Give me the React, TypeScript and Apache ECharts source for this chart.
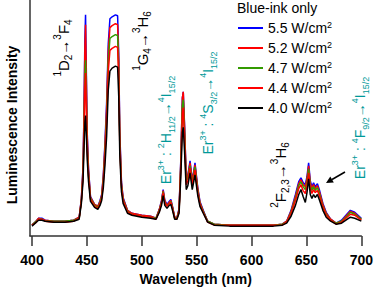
import React, { useEffect, useRef } from "react";
import * as echarts from "echarts";

const wavelength = [400,403,406,409,412,420,430,438,443,445,446.5,447.3,448.2,448.8,449.6,450.3,451.5,453.3,457,460,462,463.5,465,466.5,468,469.5,471,473,476,478,479,480,481.5,483,487,491,500,508,513,516,518,519.5,521,523,525,526.5,528,530,532,534,535.5,537,537.8,539,540.5,542,544,546,548.5,551,553,556,560,566,580,600,620,628,632,636,640,643,645,647,649,650.5,652,653.5,655,656.5,658,660,662,665,668,672,677,682,686,690,694,700];

const p55 = [11,14,18,18,16,15,15,16,19,38,70,120,200,224,160,105,68,40,32,30,36,42,62,95,135,195,220,222,224,223,185,105,55,39,26,23,21,20,18,27,36,47,36,32,35,37,30,19,18,28,75,140,146,112,58,62,76,56,74,49,35,26,15,12,11,11,11,12,15,26,42,55,59,54,52,60,74,56,50,54,50,53,46,33,24,17,13,16,21,26,24,18];
const p52 = [11,14,18,17,16,15,15,16,19,37,68,115,191,214,153,101,66,39,32,30,35,41,60,91,129,187,211,213,215,214,178,101,53,38,26,23,21,20,18,27,35,46,35,31,34,36,29,19,18,27,73,140,146,110,57,61,74,55,72,48,34,25,15,12,11,11,11,12,15,25,40,53,57,52,50,58,71,54,48,52,48,51,44,32,23,17,13,15,20,25,23,17];
const p47 = [11,14,17,17,15,15,15,16,18,36,64,104,162,178,135,92,62,38,31,29,34,40,57,86,122,177,200,202,204,203,169,96,51,37,25,22,20,19,18,26,34,45,34,31,33,35,29,18,18,26,70,132,138,104,55,59,71,53,70,46,33,25,15,12,11,11,11,12,14,24,38,51,55,50,47,55,68,51,46,50,46,49,42,30,22,16,13,15,19,24,22,17];
const p44 = [11,13,17,17,15,14,14,15,18,35,61,98,150,165,125,87,60,37,30,28,33,38,54,81,115,167,188,190,192,191,160,91,49,36,24,22,20,19,17,25,33,44,34,30,33,34,28,18,17,25,66,124,130,98,52,56,69,51,67,44,32,24,14,11,11,11,11,11,14,23,36,48,52,46,43,51,64,48,43,47,44,46,40,29,21,16,12,14,18,22,21,16];
const p40 = [10,13,16,16,15,14,14,15,17,33,55,85,115,122,100,78,55,35,29,27,31,36,49,72,101,148,167,170,172,171,142,82,45,33,23,21,19,18,17,24,31,41,31,28,31,32,26,17,17,23,58,105,110,85,47,51,64,47,62,41,30,23,14,11,10,10,10,11,13,20,31,42,47,40,34,44,58,42,38,42,39,42,36,26,19,15,12,13,16,19,18,15];

const seriesNames = ["5.5 W/cm2", "5.2 W/cm2", "4.7 W/cm2", "4.4 W/cm2", "4.0 W/cm2"];
const seriesColors = ["#0000ff", "#ff0000", "#339a00", "#ff0000", "#000000"];
const seriesValues = [p55, p52, p47, p44, p40];
const xTicks = [400, 450, 500, 550, 600, 650, 700];

const FONT = "Liberation Sans, Arial, sans-serif";
const TEAL = "#009999";

function rich(color: string, main: number, small: number) {
  return {
    m: { fontSize: main, fontFamily: FONT, fill: color, color, lineHeight: main + 6, verticalAlign: "middle" },
    u: { fontSize: small, fontFamily: FONT, fill: color, color, lineHeight: small, verticalAlign: "top" },
    d: { fontSize: small, fontFamily: FONT, fill: color, color, lineHeight: small, verticalAlign: "bottom" },
  };
}

function vText(x: number, y: number, text: string, color: string, main: number, small: number) {
  return {
    type: "text",
    x,
    y,
    rotation: Math.PI / 2,
    style: {
      text,
      rich: rich(color, main, small),
      align: "center",
      verticalAlign: "middle",
      fill: color,
      font: `${main}px ${FONT}`,
    },
    z: 100,
  };
}

export default function App() {
  const ref = useRef<HTMLDivElement>(null);
  useEffect(() => {
    if (!ref.current) return;
    const chart = echarts.init(ref.current, null, { renderer: "svg" });
    const option: any = {
      animation: false,
      grid: { left: 30, right: 11, top: 0, bottom: 52, containLabel: false },
      xAxis: {
        type: "value",
        min: 398.2,
        max: 700,
        name: "Wavelength (nm)",
        nameLocation: "middle",
        nameGap: 36,
        nameTextStyle: { fontFamily: FONT, fontWeight: "bold", fontSize: 14, color: "#000" },
        axisLine: { show: true, onZero: false, lineStyle: { color: "#333", width: 1.5 } },
        axisTick: { show: true, inside: false, length: 10, customValues: xTicks, lineStyle: { color: "#333", width: 1.5 } },
        axisLabel: { customValues: xTicks, margin: 17, fontFamily: FONT, fontWeight: "bold", fontSize: 14, color: "#000" },
        splitLine: { show: false },
      },
      yAxis: {
        type: "value",
        min: 0,
        max: 239,
        axisLine: { show: true, lineStyle: { color: "#333", width: 1.5 } },
        axisTick: { show: false },
        axisLabel: { show: false },
        splitLine: { show: false },
      },
      legend: {
        orient: "vertical",
        left: 238,
        top: 20,
        padding: 0,
        icon: "rect",
        itemWidth: 25,
        itemHeight: 2,
        itemGap: 5,
        selectedMode: false,
        data: seriesNames,
        formatter: (name: string) => `{a|${name.slice(0, -1)}}{s|${name.slice(-1)}}`,
        textStyle: {
          fontFamily: FONT,
          fontSize: 14,
          color: "#000",
          rich: {
            a: { fontFamily: FONT, fontSize: 14, color: "#000", lineHeight: 16 },
            s: { fontFamily: FONT, fontSize: 9, color: "#000", lineHeight: 9, verticalAlign: "top" },
          },
        },
      },
      series: seriesNames.map((name, i) => ({
        name,
        type: "line",
        symbol: "none",
        showSymbol: false,
        color: seriesColors[i],
        lineStyle: { color: seriesColors[i], width: 1.5 },
        data: wavelength.map((w, j) => [w, seriesValues[i][j]]),
        z: 2 + i,
      })),
      graphic: [
        {
          type: "text",
          x: 12,
          y: 125,
          rotation: Math.PI / 2,
          style: {
            text: "Luminescence Intensity",
            font: `bold 14px ${FONT}`,
            fill: "#000",
            align: "center",
            verticalAlign: "middle",
          },
        },
        {
          type: "text",
          x: 237,
          y: 8,
          style: {
            text: "Blue-ink only",
            font: `14px ${FONT}`,
            fill: "#000",
            align: "left",
            verticalAlign: "middle",
          },
        },
        vText(63, 48, "{u|1}{m|D}{d|2}{m|→}{u|3}{m|F}{d|4}", "#000", 15, 10),
        vText(142, 41, "{u|1}{m|G}{d|4}{m|→}{u|3}{m|H}{d|6}", "#000", 15, 10),
        vText(166, 130, "{m|Er}{u|3+}{m| : }{u|2}{m|H}{d|11/2}{m|→}{u|4}{m|I}{d|15/2}", TEAL, 14, 9),
        vText(208, 103, "{m|Er}{u|3+}{m| : }{u|4}{m|S}{d|3/2}{m|→}{u|4}{m|I}{d|15/2}", TEAL, 14, 9),
        vText(280, 175, "{u|2}{m|F}{d|2,3}{m|→}{u|3}{m|H}{d|6}", "#000", 15, 10),
        vText(360, 128, "{m|Er}{u|3+}{m| : }{u|4}{m|F}{d|9/2}{m|→}{u|4}{m|I}{d|15/2}", TEAL, 14, 9),
        {
          type: "line",
          shape: { x1: 345, y1: 172, x2: 332, y2: 179.5 },
          style: { stroke: "#000", lineWidth: 1.5 },
          z: 100,
        },
        {
          type: "polygon",
          shape: { points: [[326, 183], [333.8, 182.5], [330.3, 176.5]] },
          style: { fill: "#000" },
          z: 100,
        },
      ],
    };
    chart.setOption(option);
    return () => chart.dispose();
  }, []);
  return <div ref={ref} style={{ width: 376, height: 291, position: "absolute", left: 0, top: 0 }} />;
}
